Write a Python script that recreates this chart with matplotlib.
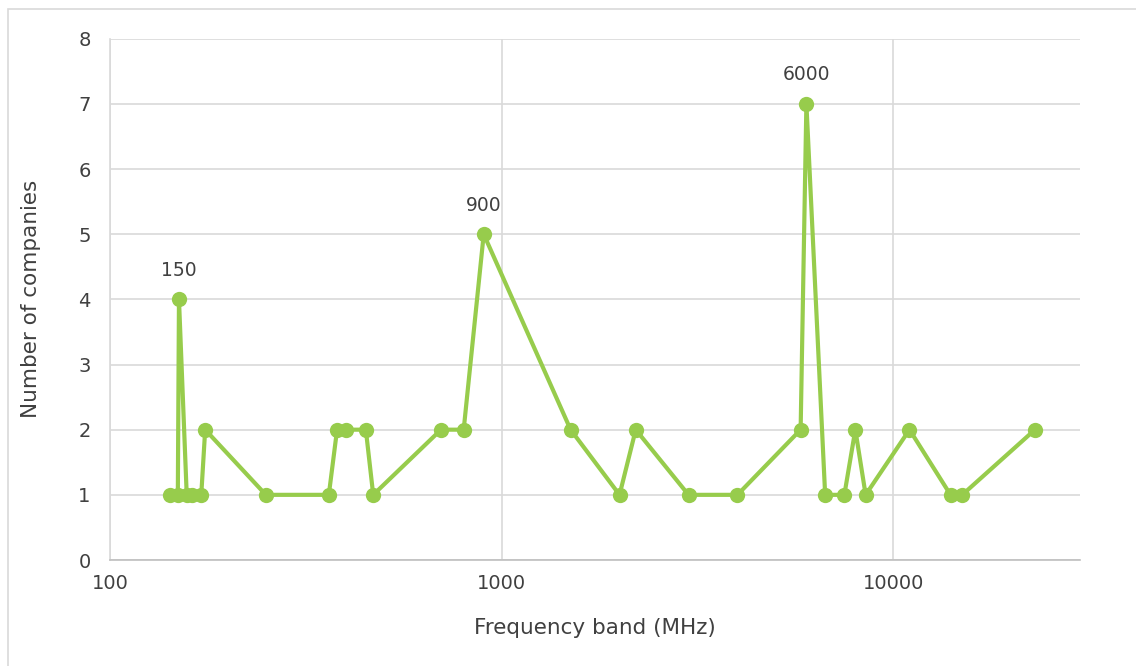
import matplotlib
matplotlib.use("Agg")
import matplotlib.pyplot as plt
from matplotlib.patches import Rectangle

freq_mhz = [142, 149, 150, 157, 162, 171, 175, 250, 362, 380, 400, 450, 470,
            700, 800, 900, 1500, 2000, 2200, 3000, 4000, 5800, 6000, 6700,
            7500, 8000, 8500, 11000, 14000, 15000, 23000]
companies = [1, 1, 4, 1, 1, 1, 2, 1, 1, 2, 2, 2, 1,
             2, 2, 5, 2, 1, 2, 1, 1, 2, 7, 1,
             1, 2, 1, 2, 1, 1, 2]
labelled = [150, 900, 6000]
x_ticks = [100, 1000, 10000]
x_ticklabels = ["100", "1000", "10000"]
y_ticks = list(range(0, 9))

plt.rcParams['font.family'] = ['DejaVu Sans']
W, H = 1136, 666
fig = plt.figure(figsize=(W / 100, H / 100), dpi=100)
fig.patch.set_facecolor('white')

# outer chart border
fig.patches.append(Rectangle((8 / W, -0.1), 1.2, 1 - 9 / H + 0.1,
                             transform=fig.transFigure, fill=False,
                             edgecolor='#D9D9D9', linewidth=1.2))

ax = fig.add_axes([110 / W, 1 - 560 / H, (1080 - 110) / W, (560 - 38.7) / H])
ax.set_xscale('log')
ax.set_xlim(100, 10 ** (2 + (1080 - 110.1) / 391.6))
ax.set_ylim(0, 8)

color = '#97CC4C'
ax.plot(freq_mhz, companies, color=color, linewidth=3.0, marker='o',
        markersize=11, markeredgewidth=0, zorder=3)

for f, c in zip(freq_mhz, companies):
    if f in labelled:
        ax.annotate(str(f), (f, c), xytext=(0, 14), textcoords='offset points',
                    ha='center', va='bottom', fontsize=13.5, color='#404040')

ax.set_xticks(x_ticks)
ax.set_xticklabels(x_ticklabels)
ax.xaxis.set_minor_locator(matplotlib.ticker.NullLocator())
ax.set_yticks(y_ticks)
ax.tick_params(axis='both', length=0, labelsize=14, labelcolor='#404040')
ax.tick_params(axis='x', pad=10)
ax.tick_params(axis='y', pad=14)

ax.grid(True, which='major', color='#D9D9D9', linewidth=1.2)
ax.set_axisbelow(True)
for s in ['top', 'right']:
    ax.spines[s].set_visible(False)
ax.spines['left'].set_color('#D9D9D9')
ax.spines['left'].set_linewidth(1.2)
ax.spines['bottom'].set_color('#BFBFBF')
ax.spines['bottom'].set_linewidth(1.2)

ax.set_xlabel('Frequency band (MHz)', fontsize=15.5, color='#404040', labelpad=18)
ax.set_ylabel('Number of companies', fontsize=15.5, color='#404040', labelpad=27)

fig.savefig('out.png', dpi=100, facecolor='white')
